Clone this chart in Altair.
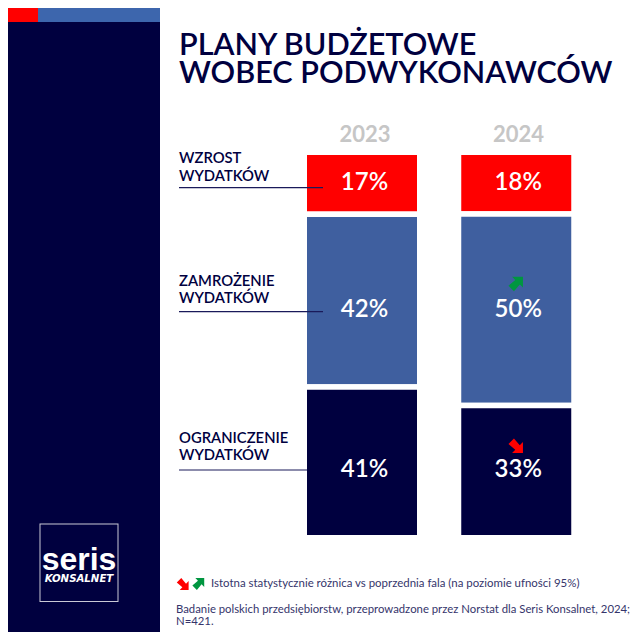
import altair as alt
import pandas as pd

years = ["2023", "2024"]
categories = ["WZROST WYDATKÓW", "ZAMROŻENIE WYDATKÓW", "OGRANICZENIE WYDATKÓW"]
labels_2023 = ["17%", "42%", "41%"]
labels_2024 = ["18%", "50%", "33%"]
# drawn length of each segment, as share of the column
drawn_2023 = [16.1, 44.8, 39.1]
drawn_2024 = [16.0, 49.7, 34.3]

NAVY = "#00003f"
BLUE = "#3f5f9f"
RED = "#ff0000"
GREEN = "#009640"
TEXTC = "#35356b"
FONT = "Lato"
OFF = 8


def P(v):
    return alt.value(v - OFF)


rows = []
for yr, labs, drawn in [("2023", labels_2023, drawn_2023), ("2024", labels_2024, drawn_2024)]:
    start = 0.0
    for cat, lab, d in zip(categories, labs, drawn):
        rows.append({"year": yr, "cat": cat, "label": lab, "start": start, "end": start + d, "mid": start + d / 2})
        start += d
df = pd.DataFrame(rows)

one = pd.DataFrame({"a": [0]})
x_enc = alt.X("year:N", axis=None, scale=alt.Scale(type="point", padding=0, domain=years, range=[362 - OFF, 516.25 - OFF]))
y_scale = alt.Scale(domain=[0, 100], range=[152.25 - OFF, 537.75 - OFF])


def box(x0, x1, y0, y1, fill):
    return alt.Chart(one).mark_rect(color=fill).encode(x=P(x0), x2=P(x1), y=P(y0), y2=P(y1))


def text(s, x, y, size, color=NAVY, weight=400, align="left", font=FONT, **kw):
    return alt.Chart(pd.DataFrame({"t": [s]})).mark_text(
        align=align, baseline="alphabetic", fontSize=size, fontWeight=weight, font=font, color=color, **kw
    ).encode(x=P(x), y=P(y), text="t:N")


def rule(x0, x1, y):
    return alt.Chart(one).mark_rule(color="#1a1a5a", strokeWidth=1.2).encode(x=P(x0), x2=P(x1), y=P(y))


UP = "M-0.25,-0.5L0.5,-0.5L0.5,0.25L0.28,0.03L-0.12,0.5L-0.5,0.12L-0.03,-0.28Z"
DOWN = "M-0.25,0.5L0.5,0.5L0.5,-0.25L0.28,-0.03L-0.12,-0.5L-0.5,-0.12L-0.03,0.28Z"


def arrow(path, x, y, size, color):
    return alt.Chart(one).mark_point(shape=path, filled=True, size=size, color=color, opacity=1, strokeWidth=0).encode(x=P(x), y=P(y))


bars = alt.Chart(df).mark_bar(size=115.5, stroke="white", strokeWidth=5.5).encode(
    x=x_enc,
    y=alt.Y("start:Q", axis=None, scale=y_scale),
    y2="end:Q",
    color=alt.Color("cat:N", legend=None, scale=alt.Scale(domain=categories, range=[RED, BLUE, NAVY])),
)

layers = [
    box(0, 160, 22, 640, NAVY),
    box(0, 38, 0, 22, RED),
    box(38, 160, 0, 22, "#3d66ad"),
    box(39.5, 118.5, 523.5, 602, "#c9c9d6"),
    box(40.5, 117.5, 524.5, 601, NAVY),
    text("seris", 79, 570, 32, "white", 700, "center", "Liberation Sans"),
    text("KONSALNET", 79, 581.5, 10.2, "white", 700, "center", "DejaVu Sans", fontStyle="italic"),
    text("PLANY BUDŻETOWE", 179, 55, 30.6, NAVY, 600),
    text("WOBEC PODWYKONAWCÓW", 179, 83, 30.6, NAVY, 600),
    text("2023", 365, 142, 22, "#c6c6c6", 700, "center"),
    text("2024", 518.5, 142, 22, "#c6c6c6", 700, "center"),
    bars,
    text("WZROST", 179, 163, 14.8, NAVY, 600),
    text("WYDATKÓW", 179, 181, 14.8, NAVY, 600),
    text("ZAMROŻENIE", 179, 286, 14.8, NAVY, 600),
    text("WYDATKÓW", 179, 303, 14.8, NAVY, 600),
    text("OGRANICZENIE", 179, 443, 14.8, NAVY, 600),
    text("WYDATKÓW", 179, 460, 14.8, NAVY, 600),
    rule(179, 323, 187.7),
    rule(179, 323, 311.7),
    rule(179, 307, 470),
]

# percentage labels sit on their segments, with the offset seen in the reference
dys = {("2023", 0): 7, ("2023", 1): 16, ("2023", 2): 15, ("2024", 0): 7, ("2024", 1): 7, ("2024", 2): 5}
dxs = {"2023": 2.5, "2024": 2}
for (yr, i), dy in dys.items():
    sub = df[(df.year == yr) & (df.cat == categories[i])]
    layers.append(
        alt.Chart(sub).mark_text(
            baseline="alphabetic", fontSize=24, fontWeight=600, font=FONT, color="white", dy=dy, dx=dxs[yr]
        ).encode(x=x_enc, y=alt.Y("mid:Q", axis=None, scale=y_scale), text="label:N")
    )

layers += [
    arrow(UP, 515.7, 284, 840, GREEN),
    arrow(DOWN, 515.7, 445.7, 840, RED),
    arrow(DOWN, 182.7, 584, 560, RED),
    arrow(UP, 198.3, 584, 560, GREEN),
    text("Istotna statystycznie różnica vs poprzednia fala  (na poziomie ufności 95%)", 211, 586.5, 11.45, TEXTC),
    text("Badanie polskich przedsiębiorstw, przeprowadzone przez Norstat dla Seris Konsalnet, 2024;", 176, 612.5, 11.33, TEXTC),
    text("N=421.", 176, 625, 11.33, TEXTC),
]

chart = alt.layer(*layers).properties(
    width=624, height=624, padding=0, autosize=alt.AutoSizeParams(type="none")
).configure_view(stroke=None)

chart.save("out.html", embed_options={"renderer": "svg", "actions": False})
